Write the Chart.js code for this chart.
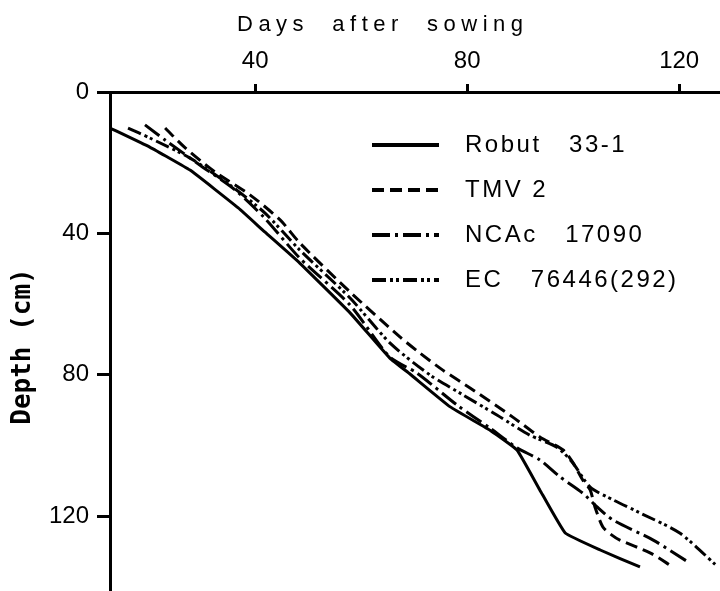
<!DOCTYPE html>
<html>
<head>
<meta charset="utf-8">
<script src="https://cdn.jsdelivr.net/npm/chart.js@4/dist/chart.umd.min.js"></script>
<style>
html,body{margin:0;padding:0;background:#fff;}
canvas{display:block;}
</style>
</head>
<body>
<canvas id="c" width="720" height="591"></canvas>
<script>
// ---- Data ----
const seriesNames = ['Robut   33-1', 'TMV 2', 'NCAc   17090', 'EC   76446(292)'];

const robutDays  = [12.6, 20.1, 27.7, 36.8, 41.8, 48.4, 57.9, 65.4, 69.2, 76.8, 84.5, 89.4, 93.7, 98.5, 105.1, 112.6];
const robutDepth = [10.2, 15.6, 22.1, 32.8, 39.6, 48.4, 62.5, 75.3, 79.8, 89.1, 95.9, 101.3, 112.6, 124.8, 129.6, 134.4];

const tmvDays  = [23.0, 26.8, 32.4, 39.0, 44.7, 48.4, 57.9, 67.3, 71.1, 75.4, 81.1, 88.6, 93.7, 98.1, 100.0, 101.8, 103.2, 104.1, 105.6, 107.3, 108.8, 114.5, 118.8];
const tmvDepth = [10.2, 15.8, 22.6, 29.1, 36.2, 42.7, 56.6, 69.3, 73.9, 78.7, 84.3, 92.0, 97.6, 101.3, 105.0, 109.8, 112.6, 117.4, 123.1, 125.4, 126.8, 130.4, 134.4];

const ncacDays  = [19.2, 23.0, 29.6, 36.2, 41.8, 48.4, 57.9, 65.4, 70.5, 78.1, 84.3, 89.4, 93.7, 97.5, 101.8, 104.5, 107.5, 115.1, 122.0];
const ncacDepth = [9.3, 13.6, 20.7, 27.7, 35.7, 47.0, 60.3, 75.0, 79.5, 88.6, 95.1, 100.7, 104.1, 108.9, 113.5, 117.4, 121.1, 126.8, 133.3];

const ecDays  = [16.0, 20.1, 27.7, 35.2, 41.8, 48.4, 57.9, 65.4, 73.0, 79.2, 85.6, 91.8, 96.9, 99.8, 103.2, 107.5, 112.6, 120.1, 127.1];
const ecDepth = [10.2, 13.0, 18.7, 26.3, 34.2, 44.7, 58.3, 71.0, 80.1, 85.7, 91.4, 97.1, 100.5, 104.7, 111.8, 115.4, 119.1, 124.8, 134.1];

const xTickValues = [40, 80, 120];
const yTickValues = [0, 40, 80, 120];
const xTitle = 'Days  after  sowing';
const yTitle = 'Depth (cm)';

// ---- Build datasets ----
function pts(xs, ys) { return xs.map((x, i) => ({ x: x, y: ys[i] })); }
const dashes = [[], [12, 6], [18, 5, 3, 5], [14, 4, 3, 3, 3, 4]];
const seriesData = [
  pts(robutDays, robutDepth),
  pts(tmvDays, tmvDepth),
  pts(ncacDays, ncacDepth),
  pts(ecDays, ecDepth)
];
const datasets = seriesData.map((d, i) => ({
  label: seriesNames[i],
  data: d,
  borderColor: '#000',
  backgroundColor: '#000',
  borderWidth: 3,
  borderDash: dashes[i],
  pointRadius: 0,
  tension: i === 0 ? 0.1 : 0.25,
  fill: false
}));

const FONT = '"Liberation Sans", Arial, Helvetica, sans-serif';

const overlay = {
  id: 'overlay',
  afterDraw(chart) {
    const ctx = chart.ctx;
    const ca = chart.chartArea;
    ctx.save();
    ctx.fillStyle = '#000';
    ctx.strokeStyle = '#000';
    // x axis title (top)
    ctx.font = '22px ' + FONT;
    ctx.letterSpacing = '5.5px';
    ctx.textBaseline = 'middle';
    ctx.textAlign = 'left';
    ctx.fillText(xTitle, 237, 25);
    // legend
    ctx.font = '24px ' + FONT;
    ctx.letterSpacing = '2.5px';
    chart.data.datasets.forEach((ds, i) => {
      const y = 145 + i * 45;
      ctx.beginPath();
      ctx.lineWidth = 4;
      ctx.setLineDash(ds.borderDash || []);
      ctx.moveTo(372, y);
      ctx.lineTo(439, y);
      ctx.stroke();
      ctx.setLineDash([]);
      ctx.fillText(ds.label, 465, y);
    });
    // y axis title (rotated)
    ctx.letterSpacing = '0px';
    ctx.font = 'bold 26px "DejaVu Sans Mono", monospace';
    ctx.translate(23, (ca.top + ca.bottom) / 2 + 5);
    ctx.rotate(-Math.PI / 2);
    ctx.textAlign = 'center';
    ctx.fillText(yTitle, 0, 0);
    ctx.restore();
  }
};

new Chart(document.getElementById('c'), {
  type: 'line',
  data: { datasets: datasets },
  plugins: [overlay],
  options: {
    responsive: false,
    devicePixelRatio: 1,
    animation: false,
    layout: { padding: 0 },
    plugins: {
      legend: { display: false },
      tooltip: { enabled: false },
      title: { display: false }
    },
    scales: {
      x: {
        type: 'linear',
        position: 'top',
        min: 12.6,
        max: 127.7,
        afterBuildTicks: (s) => { s.ticks = xTickValues.map(v => ({ value: v })); },
        afterFit: (s) => { s.height = 92; s.paddingLeft = 0; s.paddingRight = 0; },
        grid: { display: true, drawOnChartArea: false, drawTicks: true, tickLength: 8, lineWidth: 3, color: '#000' },
        border: { display: true, width: 3, color: '#000' },
        ticks: { color: '#000', padding: 8, maxRotation: 0, font: { size: 24, family: FONT } }
      },
      y: {
        type: 'linear',
        reverse: true,
        min: 0,
        max: 141.2,
        afterBuildTicks: (s) => { s.ticks = yTickValues.map(v => ({ value: v })); },
        afterFit: (s) => { s.width = 110; s.paddingTop = 0; s.paddingBottom = 0; },
        grid: { display: true, drawOnChartArea: false, drawTicks: true, tickLength: 13, lineWidth: 3, color: '#000' },
        border: { display: true, width: 3, color: '#000' },
        ticks: { color: '#000', padding: 8, font: { size: 24, family: FONT } }
      }
    }
  }
});
</script>
</body>
</html>
